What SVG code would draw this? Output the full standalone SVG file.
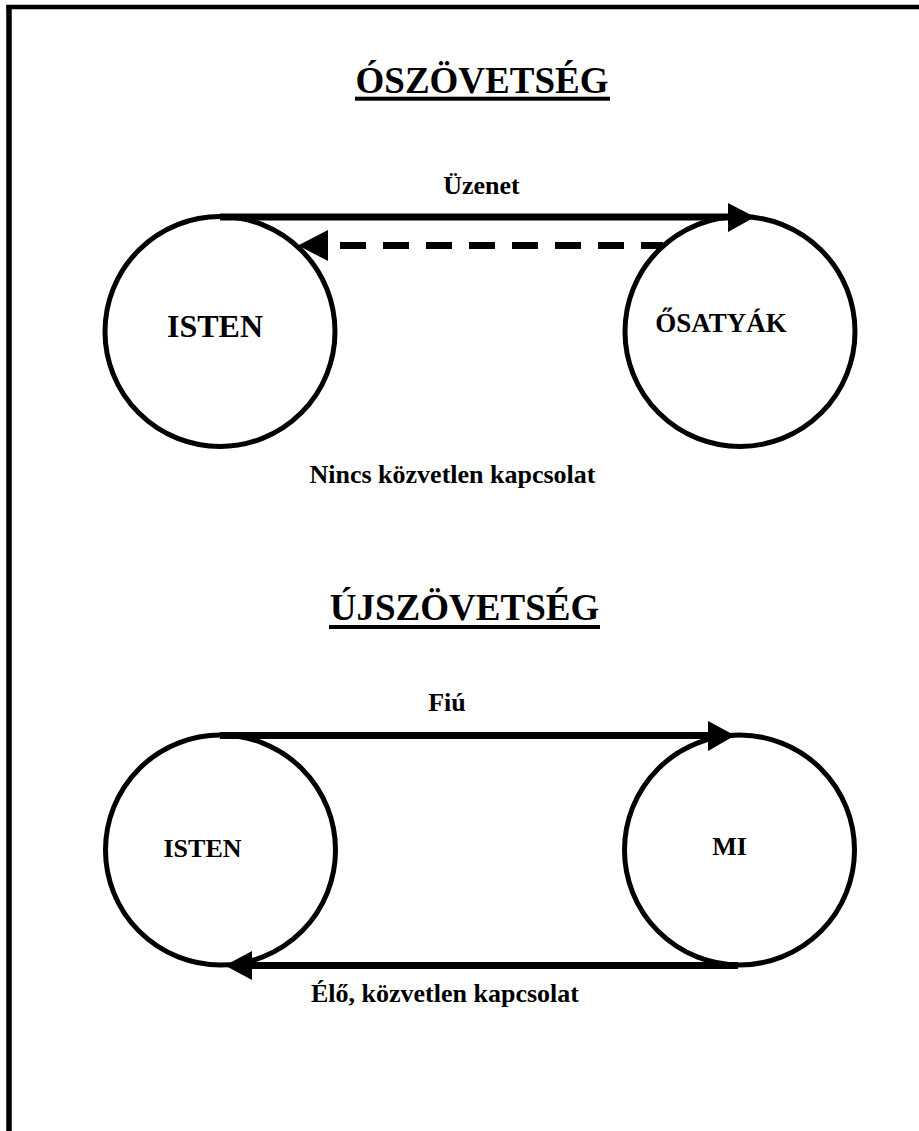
<svg xmlns="http://www.w3.org/2000/svg" width="919" height="1131" viewBox="0 0 919 1131">
<style>
.node{fill:#fff;stroke:#000;stroke-width:5}
.conn{stroke:#000;stroke-width:7;fill:none}
.dash{stroke-dasharray:26 17}
.head{fill:#000;stroke:none}
text{font-family:"Liberation Serif","Times New Roman",serif;font-weight:bold;fill:#000;text-anchor:middle}
.title{font-size:37px}
.lbl{font-size:26px}
</style>
<rect width="919" height="1131" fill="#fff"/>
<g id="frame">
<line x1="9" y1="5" x2="9" y2="1131" stroke="#000" stroke-width="5.5"/>
<line x1="6.5" y1="7" x2="919" y2="7" stroke="#000" stroke-width="4.5"/>
</g>
<g id="title-old">
<text class="title" x="482" y="93">ÓSZÖVETSÉG</text>
<rect x="355" y="96.7" width="255" height="4" fill="#000"/>
</g>
<g id="node-isten-1">
<circle class="node" cx="220" cy="331.5" r="115"/>
<text style="font-size:32px" x="215" y="337">ISTEN</text>
</g>
<g id="node-osatyak">
<circle class="node" cx="740" cy="331.5" r="115"/>
<text style="font-size:27px" x="721" y="332">ŐSATYÁK</text>
</g>
<g id="connectors-old">
<line class="conn" x1="220" y1="217" x2="730" y2="217"/>
<polygon class="head" points="728,203 755,217 728,232"/>
<line class="conn dash" x1="340" y1="245.5" x2="663" y2="245.5"/>
<polygon class="head" points="328,230 298,245.5 328,261"/>
</g>
<g id="labels-old">
<text class="lbl" x="481.5" y="194">Üzenet</text>
<text class="lbl" x="452.5" y="483">Nincs közvetlen kapcsolat</text>
</g>
<g id="title-new">
<text class="title" x="464.5" y="620">ÚJSZÖVETSÉG</text>
<rect x="329" y="625" width="271" height="4" fill="#000"/>
</g>
<g id="node-isten-2">
<circle class="node" cx="220.5" cy="850" r="115"/>
<text class="lbl" x="202.5" y="857">ISTEN</text>
</g>
<g id="node-mi">
<circle class="node" cx="739.5" cy="850" r="115"/>
<text class="lbl" x="729.5" y="855">MI</text>
</g>
<g id="connectors-new">
<line class="conn" x1="220" y1="735.5" x2="710" y2="735.5"/>
<polygon class="head" points="708,721 735,735.5 708,751"/>
<line class="conn" x1="738" y1="965.5" x2="250" y2="965.5"/>
<polygon class="head" points="252,951 225,965.5 252,980"/>
</g>
<g id="labels-new">
<text class="lbl" x="447" y="711">Fiú</text>
<text class="lbl" x="445" y="1002">Élő, közvetlen kapcsolat</text>
</g>
</svg>
